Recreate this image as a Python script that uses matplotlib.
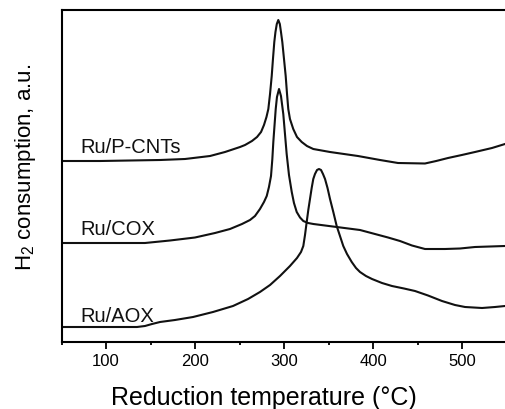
import matplotlib
matplotlib.use('Agg')
import matplotlib.pyplot as plt
from matplotlib.ticker import MultipleLocator, NullLocator

plt.rcParams['font.family'] = ['Liberation Sans', 'DejaVu Sans']
plt.rcParams['mathtext.default'] = 'regular'

# TPR traces (temperature in C, signal in arbitrary units)
t_pcnt = [50.6, 93.3, 160.7, 188.8, 216.9, 233.7, 250.6, 256.2, 264.0, 269.7, 274.2, 277.5,
          280.3, 282.4, 284.3, 286.2, 287.6, 289.1, 290.4, 291.9, 293.6, 295.3, 296.6, 298.1,
          300.0, 301.9, 303.4, 304.8, 306.7, 310.4, 314.6, 319.9, 325.8, 332.9, 351.7, 383.1,
          407.9, 428.1, 458.4, 471.0, 484.3, 499.8, 514.6, 533.7, 548.3]
y_pcnt = [181, 181, 182, 183, 186, 190, 195, 197, 201, 205, 210, 217,
          225, 233, 248, 266, 283, 300, 310, 318, 322, 318, 310, 300,
          283, 266, 248, 233, 223, 213, 205, 200, 196, 193, 190, 186,
          182, 179, 178.5, 181, 184, 187, 190, 194, 198]

t_cox = [50.6, 143.8, 171.9, 200.0, 222.5, 239.3, 252.8, 261.8, 267.4, 273.0, 277.5, 280.6,
         283.1, 285.4, 286.9, 288.0, 289.3, 290.7, 292.1, 294.4, 296.6, 299.2, 301.1, 303.0,
         305.6, 308.7, 311.2, 314.3, 318.0, 321.7, 327.0, 333.0, 359.2, 385.4, 402.2, 416.9,
         430.3, 443.8, 458.4, 480.9, 497.8, 514.6, 548.3]
y_cox = [99, 99, 101.5, 104.5, 109, 113, 118, 122, 126, 133, 140, 146,
         155, 166, 183, 200, 216, 233, 245, 253, 246, 228, 208, 188,
         167, 150, 139, 130, 124.5, 121, 119, 118, 115, 112, 108, 104.5,
         101, 96.5, 93, 93, 93.5, 95, 96]

t_aox = [50.6, 134.8, 143.8, 151.7, 160.7, 177.5, 197.8, 220.2, 242.7, 259.6, 273.0, 284.3,
         295.5, 306.7, 314.6, 319.1, 321.7, 323.6, 325.5, 327.3, 329.2, 331.1, 332.9, 334.8,
         337.1, 339.3, 341.6, 343.8, 346.1, 348.9, 351.7, 355.4, 359.2, 362.9, 366.6, 370.8,
         376.1, 380.9, 385.4, 392.1, 398.9, 410.1, 421.3, 434.8, 447.2, 461.8, 477.5, 492.1,
         503.4, 522.5, 537.1, 548.3]
y_aox = [15, 15, 16, 18, 20, 22, 25, 30, 36, 43, 50, 57,
         66, 76, 84, 90, 96, 107, 120, 132, 143, 154, 163, 168,
         172, 173, 172, 168, 163, 154, 143, 130, 116, 106, 96, 88,
         80, 74, 70, 66, 63, 59, 56, 53.5, 51, 46.5, 41, 37,
         35, 34, 35, 36]

labels = ['Ru/P-CNTs', 'Ru/COX', 'Ru/AOX']
label_y = [190, 108, 21]

fig = plt.figure(figsize=(5.05, 4.10), dpi=100)
ax = fig.add_axes([61.5/505, 67/410, 445/505, 332/410])

for t, y in [(t_pcnt, y_pcnt), (t_cox, y_cox), (t_aox, y_aox)]:
    ax.plot(t, y, color='#111111', lw=1.5)

for name, ly in zip(labels, label_y):
    ax.text(71, ly, name, fontsize=14.5, va='baseline', ha='left', color='#111111')

ax.set_xlim(50, 550)
ax.set_ylim(0, 332)
ax.xaxis.set_major_locator(MultipleLocator(100))
ax.xaxis.set_minor_locator(MultipleLocator(50))
ax.yaxis.set_major_locator(NullLocator())
ax.tick_params(axis='x', which='major', direction='out', length=4.7, width=1.3,
               top=False, labelsize=12, pad=3)
ax.tick_params(axis='x', which='minor', direction='out', length=2.5, width=1.3, top=False)
ax.spines['right'].set_visible(False)
for s in ['left', 'top', 'bottom']:
    ax.spines[s].set_linewidth(1.5)

ax.set_xlabel('Reduction temperature (°C)', fontsize=18, va='center')
ax.xaxis.set_label_coords(0.455, -0.166)
ax.set_ylabel('H$_2$ consumption, a.u.', fontsize=16, va='center')
ax.yaxis.set_label_coords(-0.082, 0.53)

fig.savefig('out.png', dpi=100)
